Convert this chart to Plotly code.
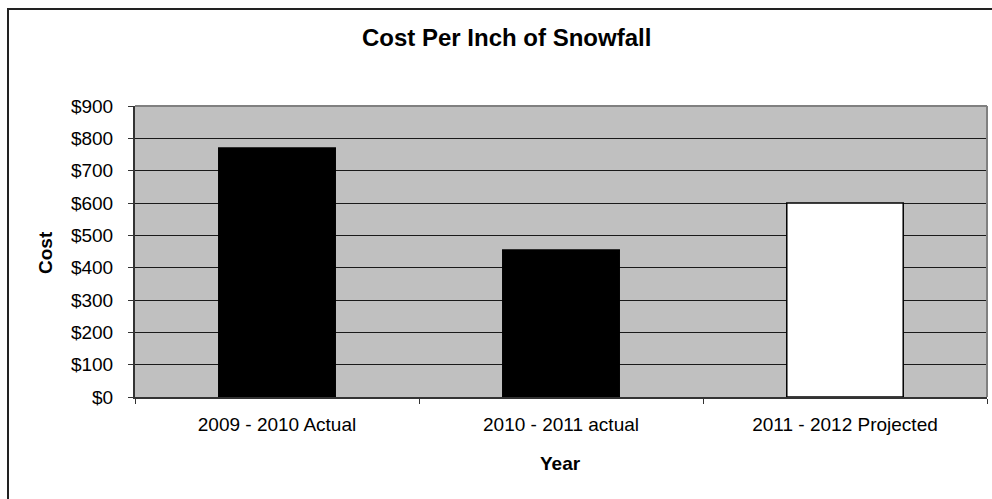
import plotly.graph_objects as go

# Snow removal cost per inch of snowfall, by season
seasons = ["2009 - 2010 Actual", "2010 - 2011 actual", "2011 - 2012 Projected"]
cost_per_inch = [770, 455, 600]
bar_colors = ["#000000", "#000000", "#FFFFFF"]

y_ticks = [0, 100, 200, 300, 400, 500, 600, 700, 800, 900]
y_tick_text = ["$" + str(v) for v in y_ticks]

W, H = 992, 499
L, R, T, B = 135, 5, 106, 102
pw, ph = W - L - R, H - T - B

def px_to_paper_x(px):
    return (px - L) / pw

def px_to_paper_y(py):
    return (H - B - py) / ph

FONT = "Liberation Sans, Arial, sans-serif"
TICK_SIZE = 19

fig = go.Figure(
    go.Bar(
        x=seasons,
        y=cost_per_inch,
        width=0.41,
        marker=dict(color=bar_colors, line=dict(color="#000000", width=1.5)),
        hoverinfo="x+y",
    )
)

fig.update_layout(
    width=W,
    height=H,
    margin=dict(l=L, r=R, t=T, b=B),
    paper_bgcolor="#FFFFFF",
    plot_bgcolor="#C0C0C0",
    showlegend=False,
    font=dict(family=FONT, size=TICK_SIZE, color="#000000"),
)

fig.update_xaxes(
    type="category",
    showline=True,
    linecolor="#333333",
    linewidth=2,
    ticks="outside",
    tickson="boundaries",
    ticklen=5,
    tickcolor="#333333",
    tickwidth=1,
    showgrid=False,
    ticklabelstandoff=9,
    tickfont=dict(family=FONT, size=TICK_SIZE),
)

fig.update_yaxes(
    range=[0, 900],
    tickvals=y_ticks,
    ticktext=y_tick_text,
    showline=True,
    linecolor="#333333",
    linewidth=2,
    ticks="outside",
    ticklen=5,
    tickcolor="#333333",
    tickwidth=1,
    showgrid=True,
    gridcolor="#1a1a1a",
    gridwidth=1,
    zeroline=False,
    ticklabelstandoff=11,
    tickfont=dict(family=FONT, size=TICK_SIZE),
)

# Gray frame on the top and right of the plot area, outer chart border
fig.add_shape(type="line", xref="paper", yref="paper", x0=0, x1=1, y0=1, y1=1,
              line=dict(color="#808080", width=2), layer="above")
fig.add_shape(type="line", xref="paper", yref="paper", x0=1, x1=1, y0=0, y1=1,
              line=dict(color="#808080", width=2), layer="above")
fig.add_shape(type="rect", xref="paper", yref="paper",
              x0=px_to_paper_x(8), x1=px_to_paper_x(1010),
              y0=px_to_paper_y(520), y1=px_to_paper_y(9),
              line=dict(color="#222222", width=2), fillcolor="rgba(0,0,0,0)")

fig.add_annotation(text="<b>Cost Per Inch of Snowfall</b>", xref="paper", yref="paper",
                   x=px_to_paper_x(506), y=px_to_paper_y(38), showarrow=False,
                   xanchor="center", yanchor="middle",
                   font=dict(family=FONT, size=24, color="#000000"))
fig.add_annotation(text="<b>Cost</b>", xref="paper", yref="paper",
                   x=px_to_paper_x(45), y=px_to_paper_y(253), showarrow=False,
                   textangle=-90, xanchor="center", yanchor="middle",
                   font=dict(family=FONT, size=19, color="#000000"))
fig.add_annotation(text="<b>Year</b>", xref="paper", yref="paper",
                   x=px_to_paper_x(560), y=px_to_paper_y(463), showarrow=False,
                   xanchor="center", yanchor="middle",
                   font=dict(family=FONT, size=19, color="#000000"))

fig.write_html("out.html")
